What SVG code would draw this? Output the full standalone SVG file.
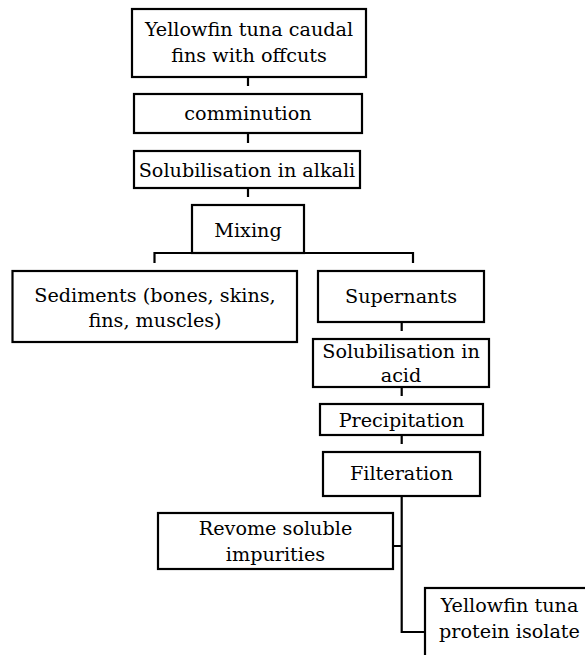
<svg xmlns="http://www.w3.org/2000/svg" width="585" height="655" viewBox="0 0 585 655">
<style>
rect{fill:#fff;stroke:#000;stroke-width:2.2}
text{font-family:'DejaVu Serif',serif;font-size:19.2px;fill:#000;text-anchor:middle}
.c{fill:none;stroke:#000;stroke-width:2.2}
</style>
<rect x="0" y="0" width="585" height="655" style="stroke:none"/>
<g id="connectors">
<path class="c" d="M248,77V86M248,133V143M248,188V197"/>
<path class="c" d="M154.5,263V253H413V263"/>
<path class="c" d="M401.7,322V331M401.7,387V396M401.7,435V444"/>
<path class="c" d="M401.7,496V632H425M393,546H401.7"/>
</g>
<g id="n1"><rect x="132" y="9" width="234" height="68"/><text x="249" y="36">Yellowfin tuna caudal</text><text x="249" y="62">fins with offcuts</text></g>
<g id="n2"><rect x="134" y="94" width="228" height="39"/><text x="248" y="120">comminution</text></g>
<g id="n3"><rect x="134" y="151" width="226" height="37"/><text x="247" y="177">Solubilisation in alkali</text></g>
<g id="n4"><rect x="192" y="205" width="112" height="48"/><text x="248" y="237">Mixing</text></g>
<g id="n5"><rect x="12.5" y="271" width="284.5" height="71"/><text x="155" y="302">Sediments (bones, skins,</text><text x="155" y="327">fins, muscles)</text></g>
<g id="n6"><rect x="318" y="271" width="166" height="51"/><text x="401" y="303">Supernants</text></g>
<g id="n7"><rect x="313" y="339" width="176" height="48"/><text x="401" y="358">Solubilisation in</text><text x="401" y="382">acid</text></g>
<g id="n8"><rect x="320" y="404" width="163" height="31"/><text x="401.5" y="427">Precipitation</text></g>
<g id="n9"><rect x="323" y="452" width="157" height="44"/><text x="401.5" y="480">Filteration</text></g>
<g id="n10"><rect x="158" y="513" width="235" height="56"/><text x="275.5" y="535">Revome soluble</text><text x="275.5" y="561">impurities</text></g>
<g id="n11"><rect x="425" y="588" width="170" height="80"/><text x="509.5" y="612">Yellowfin tuna</text><text x="509.5" y="638">protein isolate</text></g>
</svg>
